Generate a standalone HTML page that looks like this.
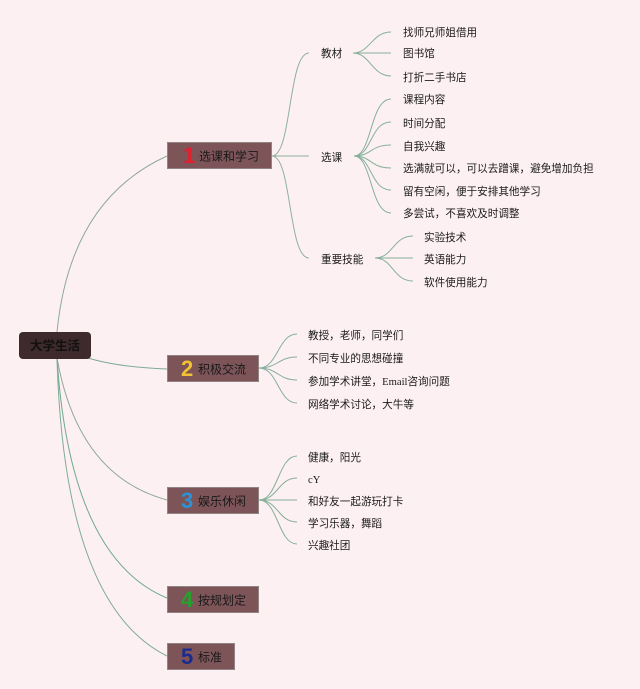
<!DOCTYPE html>
<html><head><meta charset="utf-8"><style>
html,body{margin:0;padding:0;background:#fcf0f2;}
svg{display:block;}
text{font-family:"Liberation Sans","Noto Sans CJK SC",sans-serif;fill:#1a1a1a;}
.l{font-size:10.6px;}
.b{font-size:12px;}
.n{font-size:22px;font-weight:bold;font-family:"Liberation Sans",sans-serif;}
.s{font-family:"Liberation Serif","Noto Sans CJK SC",serif;}
</style></head><body>
<svg width="640" height="689" viewBox="0 0 640 689" xmlns="http://www.w3.org/2000/svg">
<rect width="640" height="689" fill="#fcf0f2"/>
<g fill="none" stroke-width="1">
<path d="M57,332 Q70,200 167,156" stroke="#8fa99c"/>
<path d="M85,357 Q115,367 167,369" stroke="#7fab97"/>
<path d="M57,358 Q78,476 167,500" stroke="#8fa99c"/>
<path d="M57,358 Q70,558 167,598" stroke="#6fa98e"/>
<path d="M57,358 Q64,605 167,656" stroke="#7fab97"/>
<path d="M272,156 C292,156 288,53 309,53" stroke="#8fb0a0"/>
<path d="M272,156 L309,156" stroke="#8fb0a0"/>
<path d="M272,156 C292,156 288,258 309,258" stroke="#8fb0a0"/>
<g stroke="#86b09c">
<path d="M353,53 C370,53 372,32 391,32"/>
<path d="M353,53 L391,53"/>
<path d="M353,53 C370,53 372,76 391,76"/>
</g>
<g stroke="#86b09c">
<path d="M354,156 C372,156 370,99 391,99"/>
<path d="M354,156 C372,156 370,122 391,122"/>
<path d="M354,156 C372,156 370,145 391,145"/>
<path d="M354,156 C372,156 370,168 391,168"/>
<path d="M354,156 C372,156 370,190 391,190"/>
<path d="M354,156 C372,156 370,213 391,213"/>
</g>
<g stroke="#86b09c">
<path d="M375,258 C393,258 393,236 413,236"/>
<path d="M375,258 L413,258"/>
<path d="M375,258 C393,258 393,281 413,281"/>
</g>
<g stroke="#86b09c">
<path d="M259,368 C278,368 278,334 297,334"/>
<path d="M259,368 C278,368 278,357 297,357"/>
<path d="M259,368 C278,368 278,380 297,380"/>
<path d="M259,368 C278,368 278,403 297,403"/>
</g>
<g stroke="#86b09c">
<path d="M259,500 C278,500 278,456 297,456"/>
<path d="M259,500 C278,500 278,478 297,478"/>
<path d="M259,500 L297,500"/>
<path d="M259,500 C278,500 278,522 297,522"/>
<path d="M259,500 C278,500 278,544 297,544"/>
</g>
</g>
<rect x="19" y="332" width="72" height="27" rx="4" fill="#3e2a2c"/>
<text x="55" y="350" text-anchor="middle" style="font-size:12.5px;font-weight:bold;fill:#111">大学生活</text>

<rect x="167.5" y="142.5" width="104" height="26" fill="#7d5457" stroke="#8e8585"/>
<text x="183" y="163" class="n" style="fill:#e0202c">1</text>
<text x="199" y="160.5" class="b">选课和学习</text>

<rect x="167.5" y="355.5" width="91" height="26" fill="#7d5457" stroke="#8e8585"/>
<text x="181" y="376" class="n" style="fill:#f2c232">2</text>
<text x="198" y="373.5" class="b">积极交流</text>

<rect x="167.5" y="487.5" width="91" height="26" fill="#7d5457" stroke="#8e8585"/>
<text x="181" y="508" class="n" style="fill:#2b93d6">3</text>
<text x="198" y="505.5" class="b">娱乐休闲</text>

<rect x="167.5" y="586.5" width="91" height="26" fill="#7d5457" stroke="#8e8585"/>
<text x="181" y="607" class="n" style="fill:#27a02d">4</text>
<text x="198" y="604.5" class="b">按规划定</text>

<rect x="167.5" y="643.5" width="67" height="26" fill="#7d5457" stroke="#8e8585"/>
<text x="181" y="664" class="n" style="fill:#1b2b8e">5</text>
<text x="198" y="661.5" class="b">标准</text>

<text x="321" y="57" class="l">教材</text>
<text x="321" y="161" class="l">选课</text>
<text x="321" y="263" class="l">重要技能</text>

<text x="403" y="36" class="l">找师兄师姐借用</text>
<text x="403" y="57" class="l">图书馆</text>
<text x="403" y="81" class="l">打折二手书店</text>
<text x="403" y="103" class="l">课程内容</text>
<text x="403" y="127" class="l">时间分配</text>
<text x="403" y="150" class="l">自我兴趣</text>
<text x="403" y="172" class="l">选满就可以，可以去蹭课，避免增加负担</text>
<text x="403" y="195" class="l">留有空闲，便于安排其他学习</text>
<text x="403" y="217" class="l">多尝试，不喜欢及时调整</text>
<text x="424" y="241" class="l">实验技术</text>
<text x="424" y="263" class="l">英语能力</text>
<text x="424" y="286" class="l">软件使用能力</text>

<text x="308" y="339" class="l">教授，老师，同学们</text>
<text x="308" y="362" class="l">不同专业的思想碰撞</text>
<text x="308" y="385" class="l">参加学术讲堂，<tspan class="s">Email</tspan>咨询问题</text>
<text x="308" y="408" class="l">网络学术讨论，大牛等</text>

<text x="308" y="461" class="l">健康，阳光</text>
<text x="308" y="483" class="l s">cY</text>
<text x="308" y="505" class="l">和好友一起游玩打卡</text>
<text x="308" y="527" class="l">学习乐器，舞蹈</text>
<text x="308" y="549" class="l">兴趣社团</text>
</svg>
</body></html>
